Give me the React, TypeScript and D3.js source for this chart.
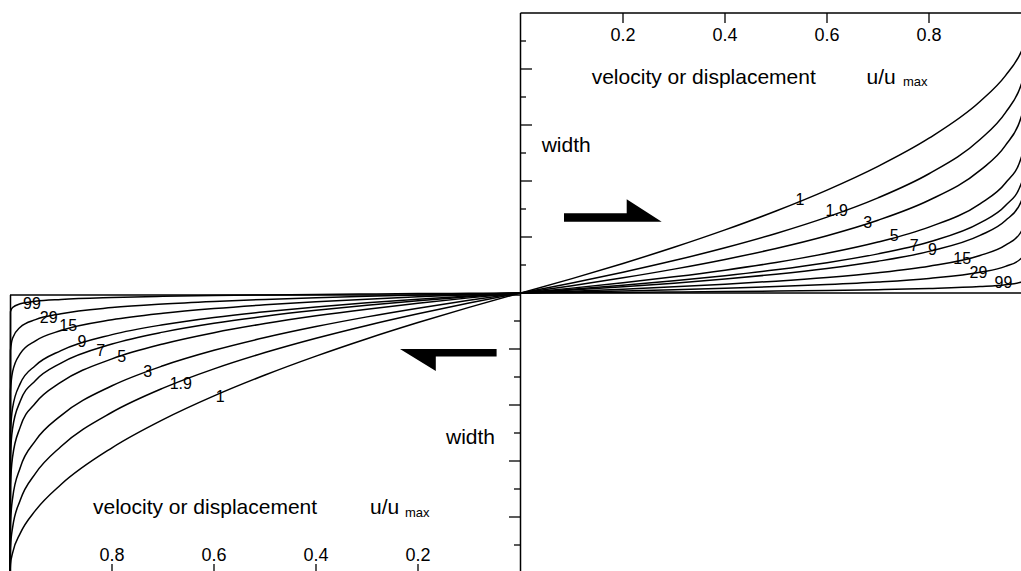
import React from 'react'
import * as d3 from 'd3'

// u/umax sample points, shared by every profile
const uGrid = [0, 0.1, 0.2, 0.3, 0.4, 0.5, 0.6, 0.7, 0.8, 0.9, 0.95, 0.98, 0.995, 0.999, 1]

// relative width at the uGrid points
const w1 = [0, 0.0513, 0.1056, 0.1633, 0.2254, 0.2929, 0.3675, 0.4523, 0.5528, 0.6838, 0.7764, 0.8586, 0.9293, 0.9684, 1]
const w1_9 = [0, 0.0357, 0.0741, 0.1157, 0.1615, 0.2126, 0.2709, 0.3398, 0.4259, 0.548, 0.6441, 0.7405, 0.8391, 0.9076, 1]
const w3 = [0, 0.026, 0.0543, 0.0853, 0.1199, 0.1591, 0.2047, 0.2599, 0.3313, 0.4377, 0.5271, 0.6239, 0.7341, 0.8222, 1]
const w5 = [0, 0.0174, 0.0365, 0.0577, 0.0816, 0.1091, 0.1416, 0.1818, 0.2353, 0.3187, 0.393, 0.479, 0.5865, 0.6838, 1]
const w7 = [0, 0.0131, 0.0275, 0.0436, 0.0619, 0.083, 0.1082, 0.1397, 0.1822, 0.2501, 0.3123, 0.3868, 0.4843, 0.5783, 1]
const w9 = [0, 0.0105, 0.0221, 0.035, 0.0498, 0.067, 0.0876, 0.1134, 0.1487, 0.2057, 0.2589, 0.3238, 0.4113, 0.4988, 1]
const w15 = [0, 0.0066, 0.0138, 0.022, 0.0314, 0.0424, 0.0557, 0.0725, 0.0957, 0.134, 0.1708, 0.2169, 0.2819, 0.3506, 1]
const w29 = [0, 0.0035, 0.0074, 0.0118, 0.0169, 0.0228, 0.0301, 0.0393, 0.0522, 0.0739, 0.095, 0.1223, 0.1619, 0.2057, 1]
const w99 = [0, 0.0011, 0.0022, 0.0036, 0.0051, 0.0069, 0.0091, 0.012, 0.016, 0.0228, 0.0295, 0.0384, 0.0516, 0.0668, 1]

const curveNames = ['1', '1.9', '3', '5', '7', '9', '15', '29', '99']
const curveWidths = [w1, w1_9, w3, w5, w7, w9, w15, w29, w99]

// where the curve numbers sit, in (u, width) units
const upperLabelU = [0.547, 0.619, 0.68, 0.732, 0.771, 0.807, 0.865, 0.897, 0.946]
const upperLabelW = [0.335, 0.296, 0.251, 0.206, 0.171, 0.156, 0.124, 0.073, 0.037]
const lowerLabelU = [0.588, 0.665, 0.73, 0.781, 0.822, 0.859, 0.886, 0.924, 0.957]
const lowerLabelW = [0.371, 0.324, 0.279, 0.225, 0.204, 0.174, 0.116, 0.086, 0.038]

const uTicks = [0.2, 0.4, 0.6, 0.8]
const widthTicks = [0.1, 0.2, 0.3, 0.4, 0.5, 0.6, 0.7, 0.8, 0.9]

const FONT = '"Liberation Sans", Arial, Helvetica, sans-serif'

export default function App() {
  const W = 1021
  const H = 571

  // upper right panel: u grows to the right, width grows upwards
  const xU = d3.scaleLinear().domain([0, 1]).range([521, 1031])
  const yU = d3.scaleLinear().domain([0, 1]).range([293, 13])
  // lower left panel: mirrored
  const xL = d3.scaleLinear().domain([0, 1]).range([520, 10])
  const yL = d3.scaleLinear().domain([0, 1]).range([293, 573])

  const lineU = d3.line<number>()
    .x((_, i) => xU(uGrid[i]))
    .y(d => yU(d))
    .curve(d3.curveMonotoneX)
  const lineL = d3.line<number>()
    .x((_, i) => xL(uGrid[i]))
    .y(d => yL(d))
    .curve(d3.curveMonotoneX)

  return (
    <svg width={W} height={H} style={{ position: 'absolute', left: 0, top: 0, background: '#fff' }}
      fontFamily={FONT}>
      <rect x={0} y={0} width={W} height={H} fill="#fff" />

      {/* frames */}
      <g stroke="#000" strokeWidth={1.5} fill="none">
        <line x1={520.5} y1={13} x2={520.5} y2={H} />
        <line x1={520.5} y1={13} x2={W} y2={13} />
        <line x1={520.5} y1={293} x2={W} y2={293} />
        <line x1={10} y1={295} x2={520.5} y2={295} />
        <line x1={10.5} y1={295} x2={10.5} y2={H} />
      </g>

      {/* upper panel ticks */}
      <g stroke="#000" strokeWidth={1.3}>
        {uTicks.map(t => (
          <line key={'ut' + t} x1={xU(t)} y1={13} x2={xU(t)} y2={23} />
        ))}
        {widthTicks.map((t, i) => (
          <line key={'uw' + t} x1={521} y1={yU(t)} x2={i % 2 === 1 ? 532 : 526} y2={yU(t)} />
        ))}
      </g>
      <g fontSize={18} textAnchor="middle">
        {uTicks.map(t => (
          <text key={'utl' + t} x={xU(t)} y={41}>{t.toFixed(1)}</text>
        ))}
      </g>

      {/* lower panel ticks */}
      <g stroke="#000" strokeWidth={1.3}>
        {uTicks.map(t => (
          <line key={'lt' + t} x1={xL(t)} y1={H} x2={xL(t)} y2={564} />
        ))}
        {widthTicks.map((t, i) => (
          <line key={'lw' + t} x1={520} y1={yL(t)} x2={i % 2 === 1 ? 509 : 514} y2={yL(t)} />
        ))}
      </g>
      <g fontSize={18} textAnchor="middle">
        {uTicks.map(t => (
          <text key={'ltl' + t} x={xL(t)} y={561}>{t.toFixed(1)}</text>
        ))}
      </g>

      {/* profiles */}
      <g fill="none" stroke="#000" strokeWidth={1.5}>
        {curveWidths.map((w, i) => (
          <path key={'cu' + i} d={lineU(w) || ''} />
        ))}
        {curveWidths.map((w, i) => (
          <path key={'cl' + i} d={lineL(w) || ''} />
        ))}
      </g>

      {/* curve numbers */}
      <g fontSize={16} textAnchor="middle">
        {curveNames.map((n, i) => (
          <text key={'lu' + n} x={xU(upperLabelU[i])} y={yU(upperLabelW[i])} dy="0.35em">{n}</text>
        ))}
        {curveNames.map((n, i) => (
          <text key={'ll' + n} x={xL(lowerLabelU[i])} y={yL(lowerLabelW[i])} dy="0.35em">{n}</text>
        ))}
      </g>

      {/* axis titles */}
      <g fontSize={21}>
        <text x={591.7} y={84}>velocity or displacement</text>
        <text x={866.5} y={84}>u/u</text>
        <text x={903} y={86} fontSize={13}>max</text>
        <text x={541.7} y={151.5}>width</text>

        <text x={93} y={514}>velocity or displacement</text>
        <text x={370} y={514}>u/u</text>
        <text x={405} y={517} fontSize={13}>max</text>
        <text x={446} y={444}>width</text>
      </g>

      {/* shear sense arrows */}
      <polygon points="564,213.3 626.7,213.3 626.7,199.3 661.7,221.7 564,221.7" fill="#000" />
      <polygon points="496.6,349 400,349 435.8,371 435.8,356.6 496.6,356.6" fill="#000" />
    </svg>
  )
}
